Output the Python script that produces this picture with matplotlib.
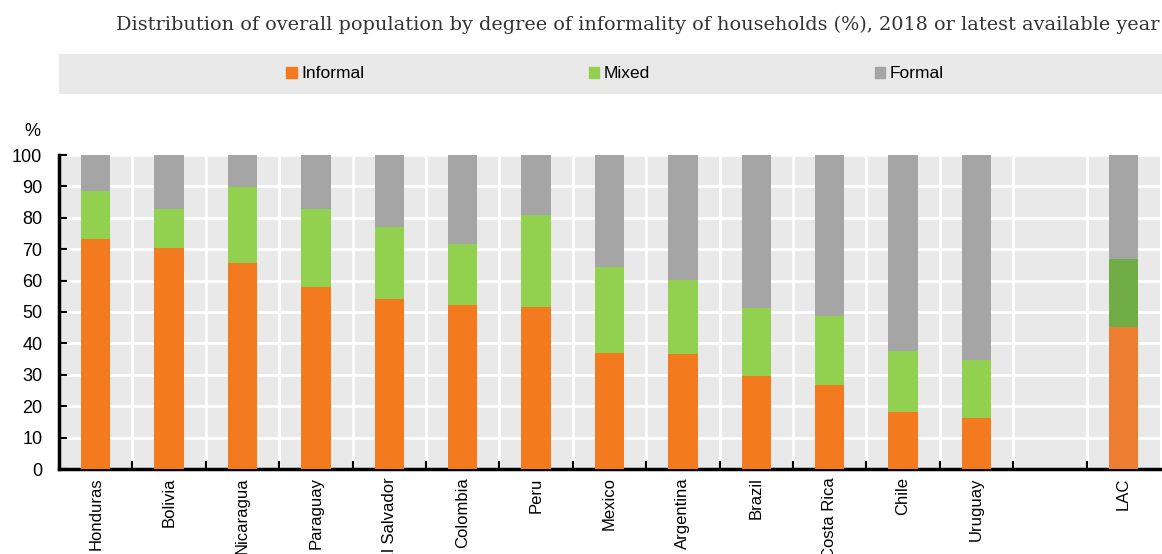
import matplotlib
matplotlib.use("Agg")
import matplotlib.pyplot as plt
from matplotlib.patches import Rectangle, Patch
from matplotlib import font_manager

countries = ["Honduras", "Bolivia", "Nicaragua", "Paraguay", "El Salvador", "Colombia",
             "Peru", "Mexico", "Argentina", "Brazil", "Costa Rica", "Chile", "Uruguay", "", "LAC"]
informal = [73.2, 70.5, 65.5, 57.9, 54.2, 52.1, 51.6, 36.9, 36.7, 29.7, 26.9, 18.2, 16.4, None, 45.2]
mixed_top = [88.5, 82.9, 89.8, 82.9, 77.0, 71.6, 81.0, 64.3, 60.2, 51.3, 48.6, 37.7, 34.6, None, 66.9]

names = {f.name for f in font_manager.fontManager.ttflist}
sans = "Liberation Sans Narrow" if "Liberation Sans Narrow" in names else "Liberation Sans"
serif = "Roboto Slab" if "Roboto Slab" in names else "DejaVu Serif"

fig = plt.figure(figsize=(11.62, 5.54), dpi=100)
W, H = 1162, 554
ax = fig.add_axes([59 / W, (H - 469) / H, (1160 - 59) / W, (469 - 155) / H])
ax.set_facecolor("#E9E9E9")

c_inf, c_mix, c_for = "#F47A20", "#92D050", "#A5A5A5"
c_inf2, c_mix2 = "#ED7D31", "#70AD47"

bw = 0.4
for i, (name, inf, mt) in enumerate(zip(countries, informal, mixed_top)):
    if inf is None:
        continue
    ci, cm = (c_inf2, c_mix2) if name == "LAC" else (c_inf, c_mix)
    mix = mt - inf
    form = 100 - mt
    ax.bar(i, inf, bw, color=ci, zorder=3)
    ax.bar(i, mix, bw, bottom=inf, color=cm, zorder=3)
    ax.bar(i, form, bw, bottom=mt, color=c_for, zorder=3)

n = len(countries)
ax.set_xlim(-0.5, n - 0.5)
ax.set_ylim(0, 100)
ax.set_yticks(range(0, 101, 10))
ax.set_xticks([i - 0.5 for i in range(1, n)], minor=False)
ax.set_xticklabels([])
ax.set_xticks(range(n), minor=True)
ax.set_xticklabels(countries, minor=True, rotation=90, fontsize=12, family=sans)
ax.tick_params(axis="x", which="minor", length=0, pad=6)
ax.tick_params(axis="x", which="major", direction="in", length=6, width=1.5)
ax.tick_params(axis="y", direction="in", length=6, width=1.5, labelsize=13, pad=12)
for lab in ax.get_yticklabels():
    lab.set_family(sans)
    lab.set_horizontalalignment("right")
ax.grid(True, which="major", color="white", linewidth=2, zorder=0)
for s in ["top", "right"]:
    ax.spines[s].set_visible(False)
ax.spines["bottom"].set_linewidth(2.5)
ax.spines["left"].set_linewidth(2.5)
ax.set_axisbelow(True)

fig.text(32 / W, (H - 131) / H, "%", fontsize=13, family=sans, ha="center", va="center")

fig.text(1160 / W, (H - 25) / H,
         "Distribution of overall population by degree of informality of households (%), 2018 or latest available year",
         fontsize=13.9, family=serif, ha="right", va="center", color="#333333")

fig.patches.append(Rectangle((59 / W, (H - 94) / H), (1162 - 59) / W, 40 / H,
                             transform=fig.transFigure, facecolor="#E9E9E9", edgecolor="none", zorder=0))
handles = [Patch(color=c_inf), Patch(color=c_mix), Patch(color=c_for)]
leg = fig.legend(handles, ["Informal", "Mixed", "Formal"], ncol=3, frameon=False,
                 loc="center", bbox_to_anchor=(615 / W, (H - 74) / H),
                 prop={"family": sans, "size": 12.5}, handlelength=0.6, handleheight=0.6,
                 handletextpad=0.25, columnspacing=12.95)

fig.savefig("out.png", dpi=100)
